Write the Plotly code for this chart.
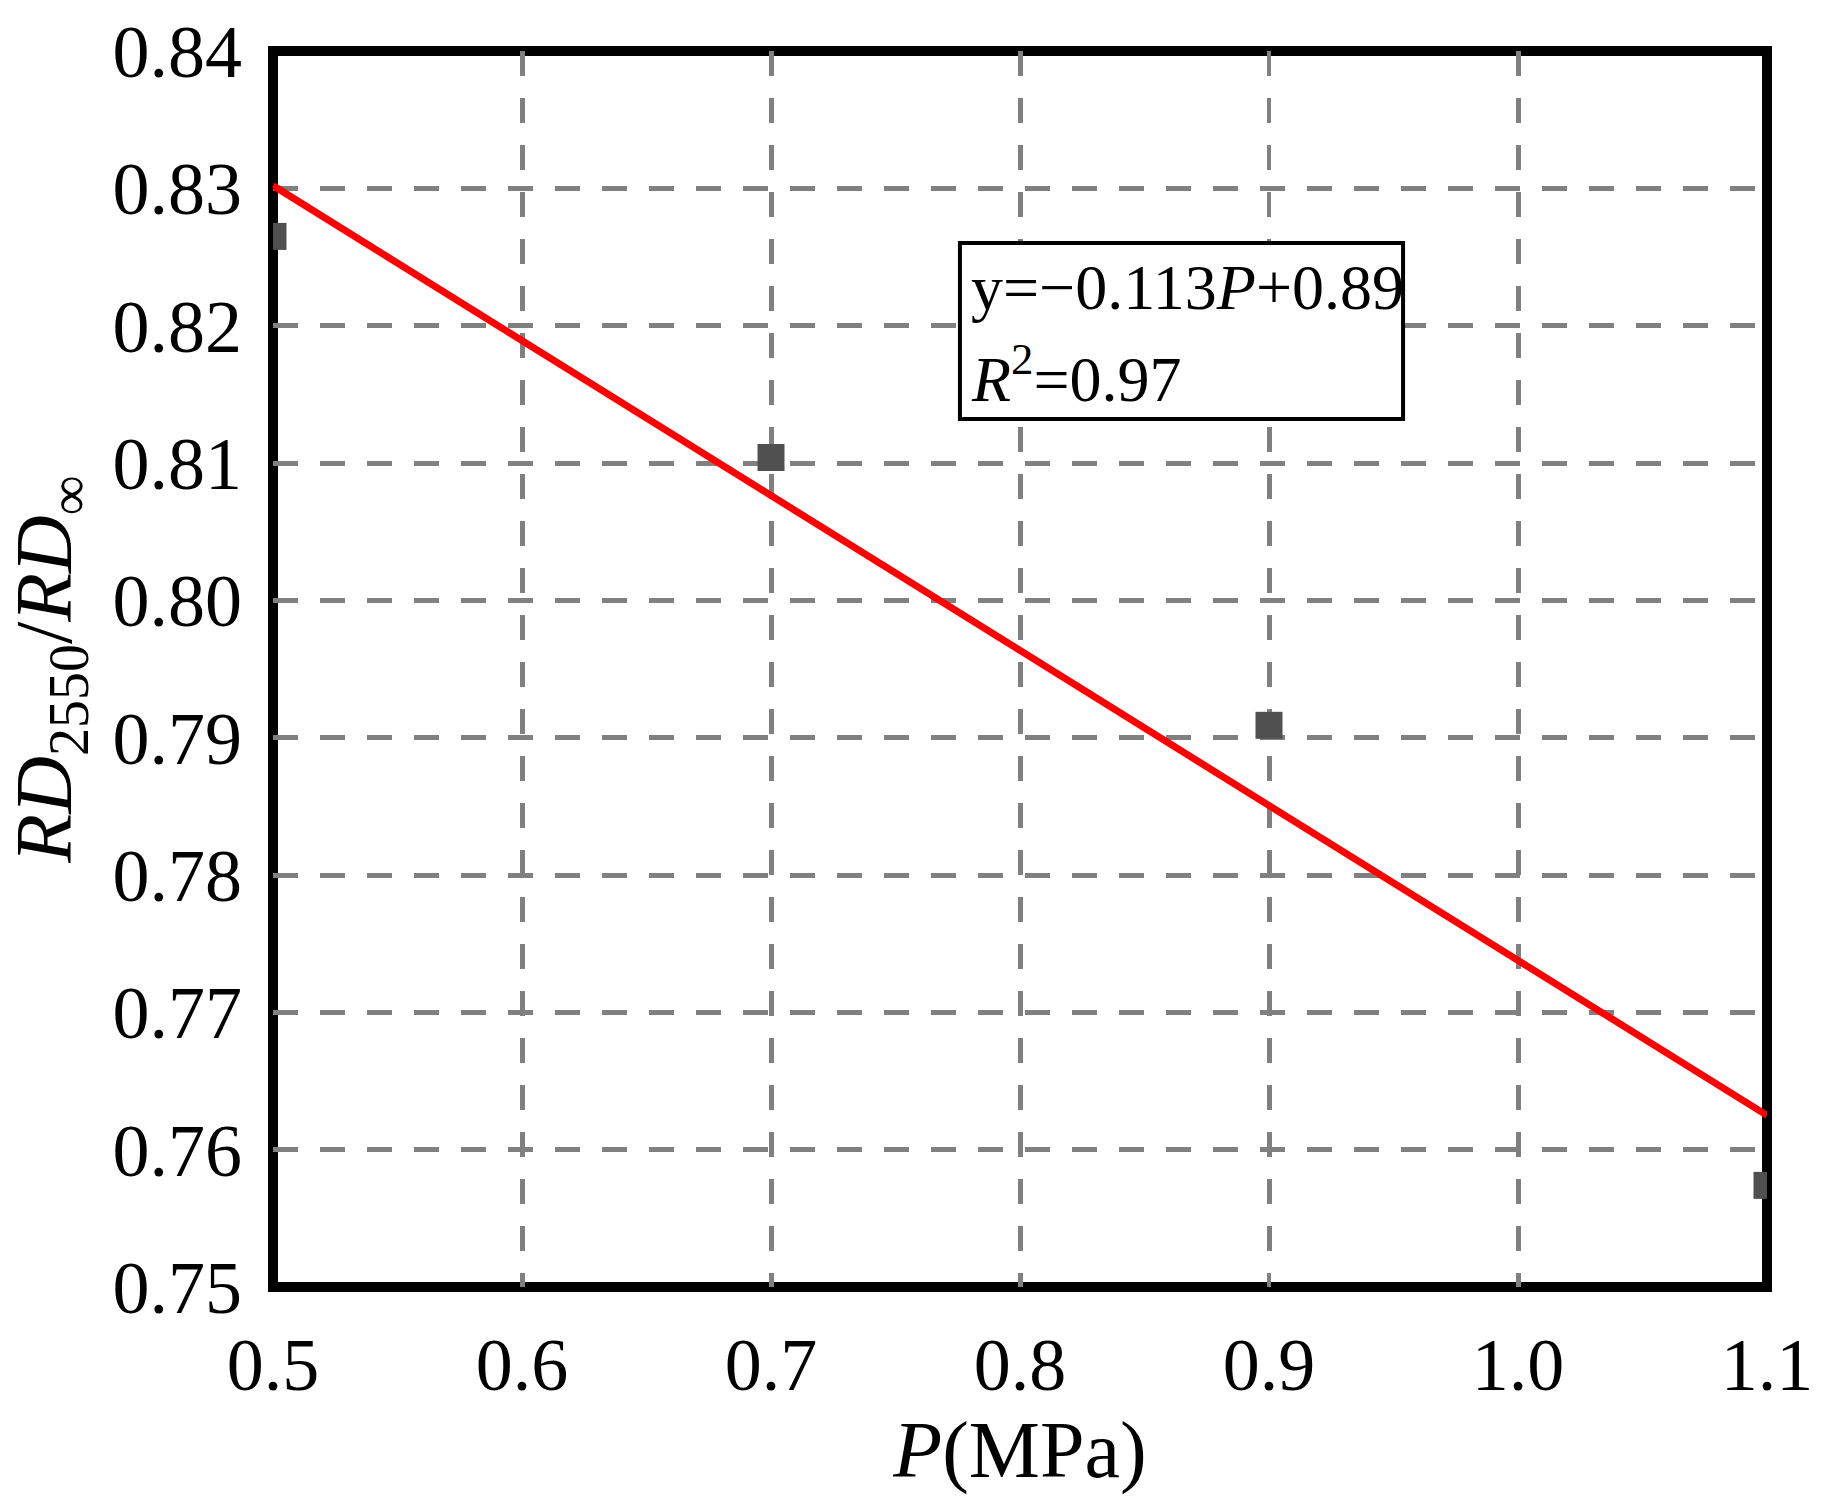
import plotly.graph_objects as go

# Data
P = [0.5, 0.7, 0.9, 1.1]
ratio = [0.8265, 0.8104, 0.7909, 0.7574]
fit_P = [0.5, 1.1]
fit_ratio = [0.8302, 0.7625]

x_ticks = [0.5, 0.6, 0.7, 0.8, 0.9, 1.0, 1.1]
y_ticks = [0.75, 0.76, 0.77, 0.78, 0.79, 0.80, 0.81, 0.82, 0.83, 0.84]

FONT = "Liberation Serif"

fig = go.Figure()
fig.add_trace(go.Scatter(x=P, y=ratio, mode="markers",
                         marker=dict(symbol="square", size=27, color="#505050",
                                     line=dict(width=0)),
                         showlegend=False))
fig.add_trace(go.Scatter(x=fit_P, y=fit_ratio, mode="lines",
                         line=dict(color="#FF0000", width=7),
                         showlegend=False))

grid = dict(showgrid=True, gridcolor="#808080", gridwidth=5, griddash="25px,22px",
            zeroline=False, showline=False, ticks="")

fig.update_layout(
    width=1825, height=1499, autosize=False,
    margin=dict(l=273, r=58, t=51, b=212, pad=0),
    paper_bgcolor="white", plot_bgcolor="white",
    font=dict(family=FONT, color="black"),
    xaxis=dict(range=[0.5, 1.1], tickvals=x_ticks,
               ticktext=[f"{v:.1f}" for v in x_ticks],
               tickfont=dict(size=74, family=FONT, color="black"),
               ticklabelstandoff=28,
               title=dict(text="<i>P</i>(MPa)", font=dict(size=80, family=FONT),
                          standoff=0),
               **grid),
    yaxis=dict(range=[0.75, 0.84], tickvals=y_ticks,
               ticktext=[f"{v:.2f}" for v in y_ticks],
               tickfont=dict(size=74, family=FONT, color="black"),
               ticklabelstandoff=30,
               title=dict(text="<i>RD</i><sub>2550</sub>/<i>RD</i><sub>∞</sub>",
                          font=dict(size=80, family=FONT), standoff=15),
               **grid),
    shapes=[
        dict(type="rect", xref="paper", yref="paper", x0=0, x1=1, y0=0, y1=1,
             line=dict(color="black", width=10), layer="between"),
        dict(type="rect", xref="paper", yref="paper", x0=0.4598, x1=0.7564,
             y0=0.7023, y1=0.8447, line=dict(color="black", width=4),
             fillcolor="white", layer="above"),
    ],
    annotations=[
        dict(xref="paper", yref="paper", x=0.4659, y=0.8083, xanchor="left",
             yanchor="middle", showarrow=False,
             text="y=−0.113<i>P</i>+0.89", font=dict(size=64, family=FONT, color="black")),
        dict(xref="paper", yref="paper", x=0.4659, y=0.7379, xanchor="left",
             yanchor="middle", showarrow=False,
             text="<i>R</i><sup>2</sup>=0.97", font=dict(size=64, family=FONT, color="black")),
    ],
)

fig.write_html("out.html")
